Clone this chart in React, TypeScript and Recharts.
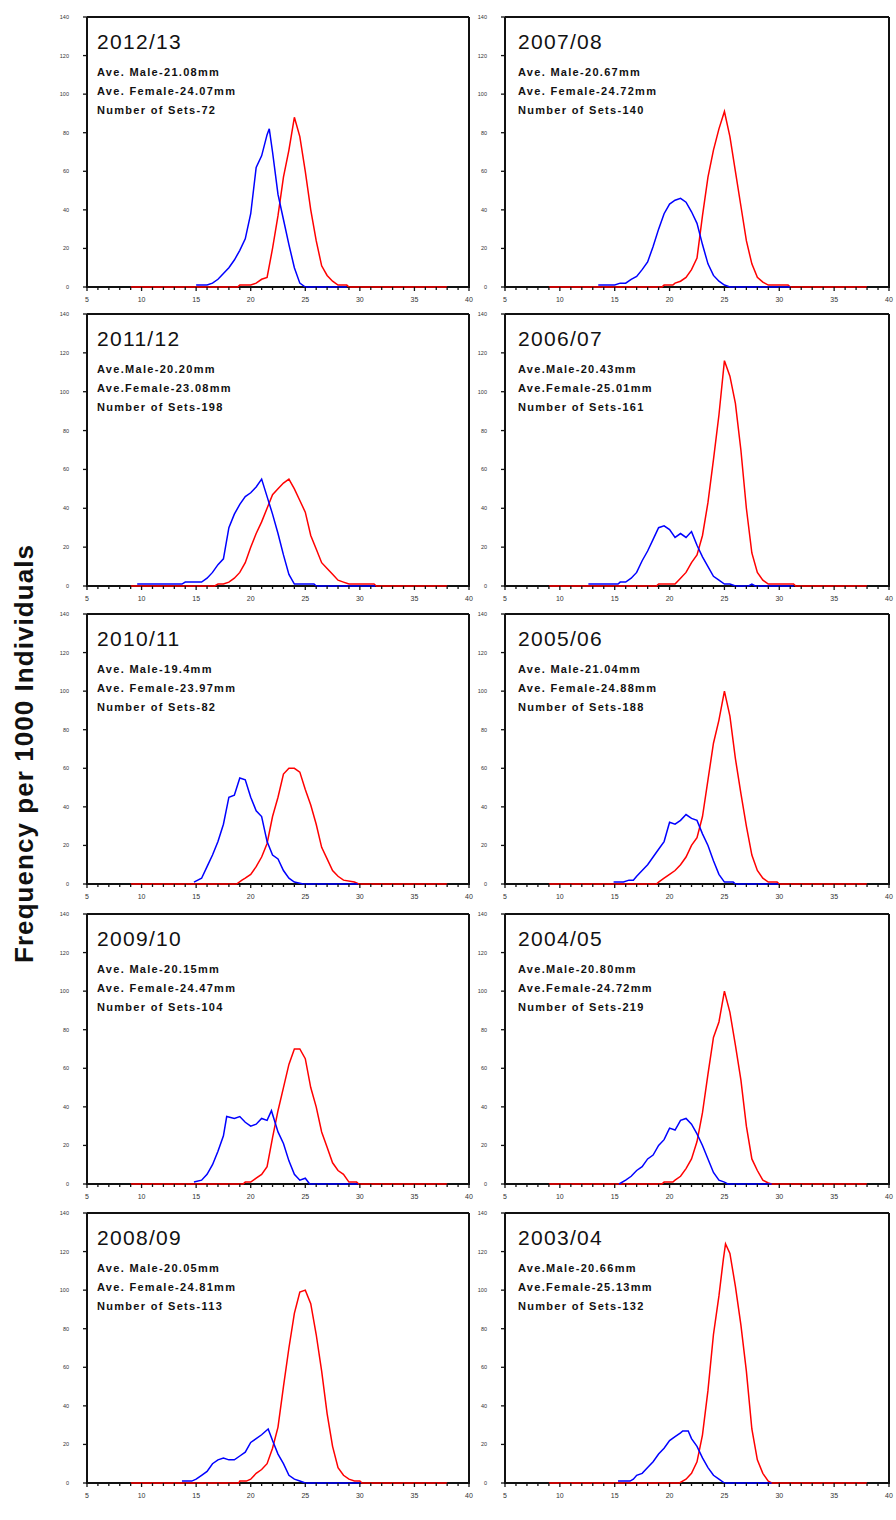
import React from 'react';
import { LineChart, Line, XAxis, YAxis } from 'recharts';

type Pt = [number, number];

// ---- data: [carapace width mm, frequency per 1000] ----
const M_2012_13: Pt[] = [[15,1],[16,1],[16.5,2],[17,4],[17.5,7],[18,10],[18.5,14],[19,19],[19.5,25],[20,38],[20.5,62],[21,68],[21.5,79],[21.7,82],[22,70],[22.5,48],[23,35],[23.5,22],[24,10],[24.5,2],[25,0],[28.8,0]];
const F_2012_13: Pt[] = [[9,0],[18.8,0],[19,1],[20,1],[20.5,2],[21,4],[21.5,5],[22,20],[22.5,37],[23,57],[23.5,71],[24,88],[24.5,78],[25,60],[25.5,40],[26,24],[26.5,11],[27,6],[27.5,3],[28,1],[28.8,1],[29,0],[38,0]];

const M_2007_08: Pt[] = [[13.5,1],[15,1],[15.5,2],[16,2],[16.5,4],[17,5.5],[17.5,9],[18,13],[18.5,21],[19,30],[19.5,38],[20,43],[20.5,45],[21,46],[21.5,44],[22,39],[22.5,33],[23,22],[23.5,12],[24,6],[24.5,3],[25,1],[25.5,0],[31,0]];
const F_2007_08: Pt[] = [[9,0],[19.3,0],[19.5,1],[20.3,1],[20.5,2],[21,3],[21.5,5],[22,9],[22.5,15],[23,37],[23.5,57],[24,71],[24.5,82],[25,91],[25.5,78],[26,60],[26.5,42],[27,24],[27.5,12],[28,5],[28.5,2.5],[29,1],[30.8,1],[31,0],[38,0]];

const M_2011_12: Pt[] = [[9.6,1],[13.7,1],[14,2],[15.5,2],[16,4],[16.5,7],[17,11],[17.5,14],[18,30],[18.5,37],[19,42],[19.5,46],[20,48],[20.5,51],[21,55],[21.5,46],[22,37],[22.5,27],[23,16],[23.5,6],[24,1],[25.8,1],[26,0],[31.4,0]];
const F_2011_12: Pt[] = [[9,0],[16.7,0],[17,1],[17.5,1],[18,2],[18.5,4],[19,7],[19.5,12],[20,20],[20.5,27],[21,33],[21.5,40],[22,47],[22.5,50],[23,53],[23.5,55],[24,50],[24.5,44],[25,38],[25.5,26],[26,19],[26.5,12],[27,9],[27.5,6],[28,3],[28.5,2],[29,1],[31.3,1],[31.5,0],[38,0]];

const M_2006_07: Pt[] = [[12.6,1],[15.3,1],[15.5,2],[16,2],[16.5,4],[17,7],[17.5,13],[18,18],[18.5,24],[19,30],[19.5,31],[20,29],[20.5,25],[21,27],[21.5,25],[22,28],[22.5,21],[23,15],[23.5,10],[24,5],[24.5,3],[25,1],[25.5,1],[26,0],[27.2,0],[27.5,1],[27.8,0],[31.3,0]];
const F_2006_07: Pt[] = [[9,0],[18.8,0],[19,1],[20.5,1],[21,4],[21.5,7],[22,12],[22.5,16],[23,26],[23.5,43],[24,65],[24.5,88],[25,116],[25.5,108],[26,94],[26.5,70],[27,40],[27.5,17],[28,7],[28.5,3],[29,1],[31.3,1],[31.5,0],[38,0]];

const M_2010_11: Pt[] = [[14.8,1],[15.5,3],[16,9],[16.5,15],[17,22],[17.5,31],[18,45],[18.5,46],[19,55],[19.5,54],[20,45],[20.5,38],[21,35],[21.5,22],[22,15],[22.5,13],[23,7],[23.5,3],[24,1],[24.8,0],[29.8,0]];
const F_2010_11: Pt[] = [[9,0],[18.7,0],[19.2,2],[19.5,3],[20,5],[20.5,9],[21,14],[21.5,21],[22,35],[22.5,45],[23,57],[23.5,60],[24,60],[24.5,58],[25,49],[25.5,41],[26,31],[26.5,19],[27,13],[27.5,7],[28,4],[28.5,2],[29.5,1],[29.9,0],[38,0]];

const M_2005_06: Pt[] = [[14.9,1],[15.8,1],[16.3,2],[16.7,2],[17,4],[17.5,7],[18,10],[18.5,14],[19,18],[19.5,22],[20,32],[20.5,31],[21,33],[21.5,36],[22,34],[22.5,33],[23,26],[23.5,20],[24,12],[24.5,5],[25,1],[25.8,1],[26,0],[29.9,0]];
const F_2005_06: Pt[] = [[9,0],[18.8,0],[19,1],[19.5,3],[20,5],[20.5,7],[21,10],[21.5,14],[22,20],[22.5,24],[23,35],[23.5,54],[24,73],[24.5,85],[25,100],[25.5,87],[26,65],[26.5,47],[27,30],[27.5,15],[28,7],[28.5,3],[29,1],[29.8,1],[30,0],[38,0]];

const M_2009_10: Pt[] = [[14.8,1],[15.5,2],[16,5],[16.5,10],[17,17],[17.5,25],[17.8,35],[18.5,34],[19,35],[19.5,32],[20,30],[20.5,31],[21,34],[21.5,33],[21.9,38],[22.5,27],[23,21],[23.5,12],[24,5],[24.5,2],[25,3],[25.4,0],[29.8,0]];
const F_2009_10: Pt[] = [[9,0],[19.3,0],[19.5,1],[20,1],[20.5,3],[21,5],[21.5,9],[22,24],[22.5,38],[23,50],[23.5,62],[24,70],[24.5,70],[25,65],[25.5,50],[26,40],[26.5,27],[27,19],[27.5,11],[28,7],[28.5,5],[29,1],[29.7,1],[29.9,0],[38,0]];

const M_2004_05: Pt[] = [[15.4,0],[16,2],[16.5,4],[17,7],[17.5,9],[18,13],[18.5,15],[19,20],[19.5,23],[20,29],[20.5,28],[21,33],[21.5,34],[22,31],[22.5,26],[23,20],[23.5,13],[24,6],[24.5,2],[25,1],[25.3,0],[29.3,0]];
const F_2004_05: Pt[] = [[9,0],[19.3,0],[19.5,1],[20.3,1],[20.5,2],[21,4],[21.5,8],[22,13],[22.5,22],[23,37],[23.5,57],[24,76],[24.5,84],[25,100],[25.5,89],[26,72],[26.5,54],[27,30],[27.5,13],[28,7],[28.5,2],[29,0.5],[29.3,0],[38,0]];

const M_2008_09: Pt[] = [[13.7,1],[14.6,1],[15,2],[15.5,4],[16,6],[16.5,10],[17,12],[17.5,13],[18,12],[18.5,12],[19,14],[19.5,16],[20,21],[20.5,23],[21,25],[21.6,28],[22,22],[22.5,15],[23,10],[23.5,4],[24,2],[24.5,1],[25,0],[30.1,0]];
const F_2008_09: Pt[] = [[9,0],[18.9,0],[19,1],[19.6,1],[20,2],[20.5,5],[21,7],[21.5,10],[22,18],[22.5,29],[23,50],[23.5,70],[24,88],[24.5,99],[25,100],[25.5,93],[26,77],[26.5,58],[27,36],[27.5,19],[28,8],[28.5,4],[29,2],[29.5,1],[30,1],[30.2,0],[38,0]];

const M_2003_04: Pt[] = [[15.3,1],[16.4,1],[16.7,2],[17,4],[17.5,5],[18,8],[18.5,11],[19,15],[19.5,18],[20,22],[20.5,24],[21,26],[21.2,27],[21.7,27],[22,23],[22.5,19],[23,13],[23.5,8],[24,4],[24.5,2],[25,0],[29.3,0]];
const F_2003_04: Pt[] = [[9,0],[20.9,0],[21.5,2],[22,5],[22.5,11],[23,25],[23.5,48],[24,77],[24.5,97],[24.9,116],[25.1,124],[25.5,119],[26,102],[26.5,82],[27,58],[27.5,28],[28,12],[28.5,5],[29,1],[29.3,0],[38,0]];

// ---- labels ----
const TITLES = ['2012/13', '2011/12', '2010/11', '2009/10', '2008/09', '2007/08', '2006/07', '2005/06', '2004/05', '2003/04'];
const MALE_LABELS = ['Ave. Male-21.08mm', 'Ave.Male-20.20mm', 'Ave. Male-19.4mm', 'Ave. Male-20.15mm', 'Ave. Male-20.05mm', 'Ave. Male-20.67mm', 'Ave.Male-20.43mm', 'Ave. Male-21.04mm', 'Ave.Male-20.80mm', 'Ave.Male-20.66mm'];
const FEMALE_LABELS = ['Ave. Female-24.07mm', 'Ave.Female-23.08mm', 'Ave. Female-23.97mm', 'Ave. Female-24.47mm', 'Ave. Female-24.81mm', 'Ave. Female-24.72mm', 'Ave.Female-25.01mm', 'Ave. Female-24.88mm', 'Ave.Female-24.72mm', 'Ave.Female-25.13mm'];
const SET_LABELS = ['Number of Sets-72', 'Number of Sets-198', 'Number of Sets-82', 'Number of Sets-104', 'Number of Sets-113', 'Number of Sets-140', 'Number of Sets-161', 'Number of Sets-188', 'Number of Sets-219', 'Number of Sets-132'];
const MALE_SERIES = [M_2012_13, M_2011_12, M_2010_11, M_2009_10, M_2008_09, M_2007_08, M_2006_07, M_2005_06, M_2004_05, M_2003_04];
const FEMALE_SERIES = [F_2012_13, F_2011_12, F_2010_11, F_2009_10, F_2008_09, F_2007_08, F_2006_07, F_2005_06, F_2004_05, F_2003_04];

const X_ALL = Array.from({ length: 36 }, (_, i) => 5 + i);
const Y_TICKS = [0, 20, 40, 60, 80, 100, 120, 140];
const Y_LABEL = 'Frequency per 1000 Individuals';

// ---- layout ----
const ROW_TOP = [17, 314, 614, 914, 1213];
const ROW_BOTTOM = [287, 586, 884, 1184, 1483];
const COL_LEFT = [87, 505];
const COL_RIGHT = [469, 889];
const TEXT_DX = [10, 13];
const ML = 44, MT = 6, MR = 6, MB = 22;
const X_TS = 4, X_TM = 6;
const FONT = '"Liberation Sans", Arial, sans-serif';
const AXIS_LINE = { stroke: '#111', strokeWidth: 2 };
const TICK_LINE = { stroke: '#111', strokeWidth: 1.3 };

const toObj = (pts: Pt[]) => pts.map(([x, y]) => ({ x, y }));

const renderXTick = (props: any) => {
  const { x, y, payload } = props;
  const v = payload.value;
  const major = v % 5 === 0;
  const axisY = y - X_TS - X_TM;
  return (
    <g key={`t${v}`}>
      <line x1={x} x2={x} y1={axisY} y2={axisY + (major ? 4 : 3)} stroke="#111" strokeWidth={1.3} />
      {major && (
        <text x={x} y={axisY + 15} textAnchor="middle" fontSize={7} fill="#333" fontFamily={FONT}>{v}</text>
      )}
    </g>
  );
};

function Panel({ idx }: { idx: number }) {
  const col = idx < 5 ? 0 : 1;
  const row = idx % 5;
  const plotL = COL_LEFT[col];
  const plotT = ROW_TOP[row];
  const plotW = COL_RIGHT[col] - plotL;
  const plotH = ROW_BOTTOM[row] - plotT;
  const male = toObj(MALE_SERIES[idx]);
  const female = toObj(FEMALE_SERIES[idx]);
  const tx = ML + TEXT_DX[col];
  const infoStyle: React.CSSProperties = {
    position: 'absolute', left: tx, fontFamily: FONT, fontWeight: 'bold', fontSize: 11,
    lineHeight: '11px', letterSpacing: 1.3, color: '#111', whiteSpace: 'nowrap',
  };
  return (
    <div style={{ position: 'absolute', left: plotL - ML, top: plotT - MT }}>
      {/* bottom frame line, painted beneath the series so zero-level lines stay visible */}
      <div style={{ position: 'absolute', left: ML - 1, top: MT + plotH - 1, width: plotW + 2, height: 2, background: '#111' }} />
      <LineChart width={plotW + ML + MR} height={plotH + MT + MB} margin={{ top: MT - 1, right: MR - 1, bottom: 0, left: 0 }}>
        <XAxis xAxisId="b" type="number" dataKey="x" domain={[5, 40]} ticks={X_ALL} interval={0}
          height={MB} tickSize={X_TS} tickMargin={X_TM} tickLine={false} tick={renderXTick}
          axisLine={false} />
        <XAxis xAxisId="t" orientation="top" type="number" dataKey="x" domain={[5, 40]} ticks={X_ALL} interval={0}
          height={1} tickSize={3} tick={false} tickLine={TICK_LINE} axisLine={AXIS_LINE} />
        <YAxis yAxisId="l" type="number" domain={[0, 140]} ticks={Y_TICKS} interval={0} width={ML}
          tickSize={4} tickMargin={14} tick={{ fontSize: 5.5, fill: '#333', fontFamily: FONT }}
          tickLine={TICK_LINE} axisLine={AXIS_LINE} />
        <YAxis yAxisId="r" orientation="right" type="number" domain={[0, 140]} ticks={Y_TICKS} interval={0} width={1}
          tickSize={3} tick={false} tickLine={TICK_LINE} axisLine={AXIS_LINE} />
        <Line xAxisId="b" yAxisId="l" data={female} dataKey="y" type="linear" stroke="#ff0000" strokeWidth={1.5}
          dot={false} activeDot={false} isAnimationActive={false} />
        <Line xAxisId="b" yAxisId="l" data={male} dataKey="y" type="linear" stroke="#0000ff" strokeWidth={1.5}
          dot={false} activeDot={false} isAnimationActive={false} />
      </LineChart>
      <div style={{ position: 'absolute', left: tx, top: MT + 14, fontFamily: FONT, fontSize: 21, lineHeight: '21px', letterSpacing: 1.3, color: '#111', whiteSpace: 'nowrap' }}>
        {TITLES[idx]}
      </div>
      <div style={{ ...infoStyle, top: MT + 50 }}>{MALE_LABELS[idx]}</div>
      <div style={{ ...infoStyle, top: MT + 69 }}>{FEMALE_LABELS[idx]}</div>
      <div style={{ ...infoStyle, top: MT + 88 }}>{SET_LABELS[idx]}</div>
    </div>
  );
}

export default function App() {
  return (
    <div style={{ position: 'absolute', left: 0, top: 0, width: 896, height: 1520, background: '#fff' }}>
      <svg width={60} height={1520} style={{ position: 'absolute', left: 0, top: 0 }}>
        <text x={33} y={754} transform="rotate(-90 33 754)" textAnchor="middle" fontFamily={FONT}
          fontWeight="bold" fontSize={26} fill="#111" textLength={418} lengthAdjust="spacing">
          {Y_LABEL}
        </text>
      </svg>
      {TITLES.map((_, i) => <Panel key={i} idx={i} />)}
    </div>
  );
}
